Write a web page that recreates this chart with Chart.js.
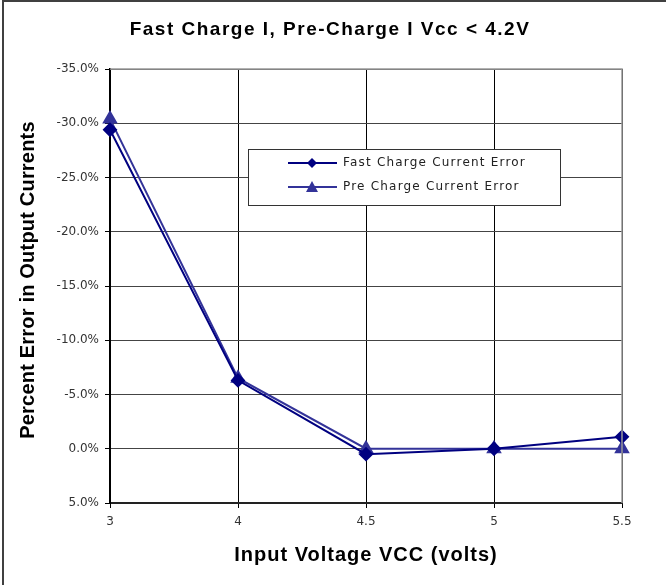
<!DOCTYPE html>
<html lang="en">
<head>
<meta charset="UTF-8">
<title>Fast Charge I, Pre-Charge I Vcc &lt; 4.2V</title>
<script src="https://cdn.jsdelivr.net/npm/chart.js"></script>
<style>
  html, body { margin: 0; padding: 0; background: #fff; }
  #wrap { width: 666px; height: 585px; }
</style>
</head>
<body>
<div id="wrap"><canvas id="chart" width="666" height="585"></canvas></div>
<script>
const voltageLabels = ['3', '4', '4.5', '5', '5.5'];
const fastChargeError = [-29.4, -6.3, 0.5, 0.0, -1.1];
const preChargeError = [-30.4, -6.5, 0.0, 0.0, 0.0];

const fastColor = '#000080';
const preColor = '#333399';

const chartTitle = 'Fast Charge I, Pre-Charge I Vcc < 4.2V';
const xTitle = 'Input Voltage VCC (volts)';
const yTitle = 'Percent Error in Output Currents';

// white page + the thin frame on the left and top
const framePlugin = {
  id: 'frame',
  beforeDraw(chart) {
    const ctx = chart.ctx;
    ctx.save();
    ctx.fillStyle = '#fff';
    ctx.fillRect(0, 0, chart.width, chart.height);
    ctx.strokeStyle = '#404040';
    ctx.lineWidth = 2;
    ctx.beginPath();
    ctx.moveTo(3, chart.height);
    ctx.lineTo(3, 1);
    ctx.lineTo(chart.width, 1);
    ctx.stroke();
    ctx.restore();
  },
  afterDatasetsDraw(chart) {
    // gray top/right border of the plot area
    const a = chart.chartArea;
    const ctx = chart.ctx;
    ctx.save();
    ctx.strokeStyle = '#999';
    ctx.lineWidth = 1.5;
    ctx.beginPath();
    ctx.moveTo(a.left, a.top);
    ctx.lineTo(a.right, a.top);
    ctx.lineTo(a.right, a.bottom);
    ctx.stroke();
    ctx.restore();
  }
};

// titles drawn by hand so they can get the wide letter spacing of the original
const titlesPlugin = {
  id: 'titles',
  afterDraw(chart) {
    const ctx = chart.ctx;
    const a = chart.chartArea;
    ctx.save();
    ctx.fillStyle = '#000';
    ctx.textAlign = 'center';
    ctx.textBaseline = 'middle';

    ctx.font = 'bold 19px "Liberation Sans"';
    ctx.letterSpacing = '1.5px';
    ctx.fillText(chartTitle, 330, 30);

    ctx.font = 'bold 20px "Liberation Sans"';
    ctx.letterSpacing = '1px';
    ctx.fillText(xTitle, (a.left + a.right) / 2, 555);

    ctx.translate(28, (a.top + a.bottom) / 2 - 6);
    ctx.rotate(-Math.PI / 2);
    ctx.font = 'bold 20px "Liberation Sans"';
    ctx.letterSpacing = '0.2px';
    ctx.fillText(yTitle, 0, 0);
    ctx.restore();
  }
};

// boxed legend drawn inside the plot
const boxLegend = {
  id: 'boxLegend',
  afterDraw(chart) {
    const ctx = chart.ctx;
    const x = 248, y = 149, w = 312, h = 56;
    ctx.save();
    ctx.fillStyle = '#fff';
    ctx.fillRect(x, y, w, h);
    ctx.strokeStyle = '#333';
    ctx.lineWidth = 1;
    ctx.strokeRect(x + 0.5, y + 0.5, w, h);
    chart.data.datasets.forEach((ds, i) => {
      const ly = y + 14 + i * 24;
      ctx.strokeStyle = ds.borderColor;
      ctx.lineWidth = 2;
      ctx.beginPath();
      ctx.moveTo(x + 40, ly);
      ctx.lineTo(x + 89, ly);
      ctx.stroke();
      ctx.fillStyle = ds.borderColor;
      ctx.beginPath();
      const cx = x + 64;
      if (ds.pointStyle === 'rectRot') {
        ctx.moveTo(cx, ly - 5); ctx.lineTo(cx + 5, ly); ctx.lineTo(cx, ly + 5); ctx.lineTo(cx - 5, ly);
      } else {
        ctx.moveTo(cx, ly - 6); ctx.lineTo(cx + 6, ly + 5); ctx.lineTo(cx - 6, ly + 5);
      }
      ctx.closePath();
      ctx.fill();
      ctx.fillStyle = '#222';
      ctx.font = '12px "DejaVu Sans"';
      ctx.textBaseline = 'middle';
      ctx.letterSpacing = '1.2px';
      ctx.fillText(ds.label, x + 95, ly);
    });
    ctx.restore();
  }
};

new Chart(document.getElementById('chart'), {
  type: 'line',
  data: {
    labels: voltageLabels,
    datasets: [
      {
        label: 'Fast Charge Current Error',
        data: fastChargeError,
        borderColor: fastColor,
        backgroundColor: fastColor,
        borderWidth: 2,
        pointStyle: 'rectRot',
        pointRadius: 6,
        tension: 0
      },
      {
        label: 'Pre Charge Current Error',
        data: preChargeError,
        borderColor: preColor,
        backgroundColor: preColor,
        borderWidth: 2,
        pointStyle: 'triangle',
        pointRadius: 7,
        tension: 0
      }
    ]
  },
  options: {
    responsive: false,
    animation: false,
    layout: { padding: { left: 0, right: 44, top: 69, bottom: 0 } },
    plugins: {
      legend: { display: false },
      tooltip: { enabled: false },
      title: { display: false }
    },
    scales: {
      x: {
        type: 'category',
        offset: false,
        afterFit(scale) { scale.height = 82; },
        grid: { color: '#000', lineWidth: 1, drawTicks: true, tickLength: 5, tickColor: '#000' },
        border: { color: '#222', width: 2 },
        ticks: { color: '#333', font: { family: 'DejaVu Sans', size: 12 }, padding: 7, maxRotation: 0 }
      },
      y: {
        reverse: true,
        min: -35,
        max: 5,
        afterFit(scale) { scale.width = 110; },
        grid: { color: '#444', lineWidth: 1, tickLength: 5, tickColor: '#000' },
        border: { color: '#000', width: 2 },
        ticks: {
          stepSize: 5,
          color: '#333',
          font: { family: 'DejaVu Sans', size: 12 },
          padding: 6,
          callback: v => v.toFixed(1) + '%'
        }
      }
    }
  },
  plugins: [framePlugin, titlesPlugin, boxLegend]
});
</script>
</body>
</html>
